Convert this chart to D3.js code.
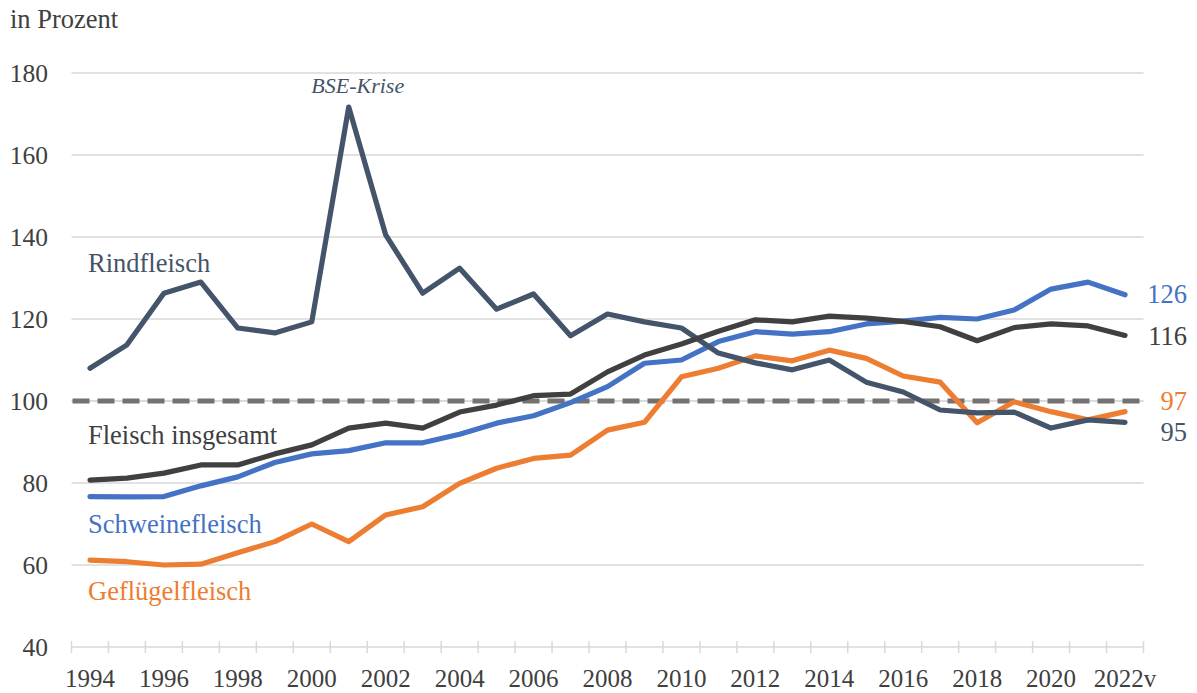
<!DOCTYPE html>
<html><head><meta charset="utf-8">
<script src="https://cdn.jsdelivr.net/npm/d3@7"></script>
<style>body{margin:0;background:#fff}svg{display:block}svg text{font-family:"Liberation Serif","Times New Roman","DejaVu Serif",serif}</style>
</head><body>
<svg id="c" width="1197" height="693"></svg>
<script>
const years = d3.range(1994, 2023);
const yearLabels = years.map(y => y === 2022 ? "2022v" : String(y));
const yTicks = [40, 60, 80, 100, 120, 140, 160, 180];
const rind = [108, 113.7, 126.3, 129, 117.8, 116.6, 119.3, 171.7, 140.5, 126.3, 132.4, 122.4, 126.1, 115.9, 121.2, 119.3, 117.8, 111.7, 109.3, 107.6, 110, 104.6, 102.2, 97.8, 97.1, 97.3, 93.4, 95.4, 94.8];
const gesamt = [80.7, 81.2, 82.4, 84.4, 84.4, 87.1, 89.3, 93.4, 94.6, 93.4, 97.3, 99, 101.3, 101.7, 107.1, 111.2, 113.9, 117, 119.8, 119.3, 120.7, 120.2, 119.4, 118.1, 114.7, 117.9, 118.8, 118.3, 116];
const schwein = [76.7, 76.6, 76.7, 79.3, 81.5, 85, 87.1, 87.9, 89.8, 89.8, 91.9, 94.6, 96.4, 99.6, 103.5, 109.2, 110, 114.5, 116.9, 116.3, 116.9, 118.8, 119.5, 120.4, 120, 122.2, 127.3, 129, 125.9];
const gefluegel = [61.2, 60.8, 60, 60.2, 63, 65.7, 70, 65.7, 72.2, 74.2, 79.9, 83.6, 86, 86.8, 92.9, 94.8, 105.9, 108, 111, 109.8, 112.4, 110.4, 106.1, 104.6, 94.7, 99.8, 97.4, 95.4, 97.4];
const seriesNames = ["Rindfleisch", "Fleisch insgesamt", "Schweinefleisch", "Geflügelfleisch"];
const endLabels = ["95", "116", "126", "97"];

const svg = d3.select("#c");
const pLeft = 71.5, pRight = 1143.5, pTop = 73, pBottom = 647;
const x = d3.scaleBand().domain(years).range([pLeft, pRight]);
const xc = d => x(d) + x.bandwidth() / 2;
const y = d3.scaleLinear().domain([40, 180]).range([pBottom, pTop]);

// gridlines
svg.append("g").selectAll("line").data(yTicks.filter(t => t !== 40)).join("line")
  .attr("x1", pLeft).attr("x2", pRight).attr("y1", d => y(d)).attr("y2", d => y(d))
  .attr("stroke", "#d9d9d9").attr("stroke-width", 1.5);

// y axis labels
svg.append("g").selectAll("text").data(yTicks).join("text")
  .attr("x", 48).attr("y", d => y(d) + 9).attr("text-anchor", "end")
  .attr("font-size", 25.5).attr("fill", "#404040").text(d => d);

// x axis
const xAxis = svg.append("g");
xAxis.append("line").attr("x1", pLeft).attr("x2", pRight).attr("y1", pBottom).attr("y2", pBottom)
  .attr("stroke", "#d9d9d9").attr("stroke-width", 1.5);
const bounds = years.map(d => x(d)).concat([pRight]);
xAxis.selectAll("line.t").data(bounds).join("line").attr("class", "t")
  .attr("x1", d => d).attr("x2", d => d).attr("y1", pBottom - 6).attr("y2", pBottom + 6)
  .attr("stroke", "#d9d9d9").attr("stroke-width", 1.5);
xAxis.selectAll("text").data(years.filter((d, i) => i % 2 === 0)).join("text")
  .attr("x", d => xc(d)).attr("y", 687).attr("text-anchor", "middle")
  .attr("font-size", 25).attr("fill", "#404040")
  .text(d => yearLabels[years.indexOf(d)]);

// reference line 100
svg.append("line").attr("x1", pLeft).attr("x2", pRight).attr("y1", y(100)).attr("y2", y(100))
  .attr("stroke", "#d9d9d9").attr("stroke-width", 1.5);
svg.append("line").attr("x1", pLeft + 1).attr("x2", pRight - 3).attr("y1", y(100)).attr("y2", y(100))
  .attr("stroke", "#767171").attr("stroke-width", 5).attr("stroke-dasharray", "17,8");

const line = d3.line().x((d, i) => xc(years[i])).y(d => y(d));
const series = [
  {v: gefluegel, c: "#ED7D31"},
  {v: schwein, c: "#4472C4"},
  {v: rind, c: "#44546A"},
  {v: gesamt, c: "#404040"}
];
svg.append("g").selectAll("path").data(series).join("path")
  .attr("d", d => line(d.v)).attr("fill", "none").attr("stroke", d => d.c)
  .attr("stroke-width", 5.2).attr("stroke-linejoin", "round").attr("stroke-linecap", "round");

// series labels
const lab = [
  {t: seriesNames[0], x: 88, y: 272, c: "#44546A"},
  {t: seriesNames[1], x: 88, y: 444, c: "#404040"},
  {t: seriesNames[2], x: 88, y: 533, c: "#4472C4"},
  {t: seriesNames[3], x: 88, y: 600, c: "#ED7D31"}
];
svg.append("g").selectAll("text").data(lab).join("text")
  .attr("x", d => d.x).attr("y", d => d.y).attr("fill", d => d.c)
  .attr("font-size", 26.5).text(d => d.t);

// end labels
const ends = [
  {t: endLabels[2], yv: 303, c: "#4472C4"},
  {t: endLabels[1], yv: 345, c: "#404040"},
  {t: endLabels[3], yv: 410, c: "#ED7D31"},
  {t: endLabels[0], yv: 441, c: "#44546A"}
];
svg.append("g").selectAll("text").data(ends).join("text")
  .attr("x", 1187).attr("y", d => d.yv).attr("text-anchor", "end").attr("fill", d => d.c)
  .attr("font-size", 26.5).text(d => d.t);

// BSE annotation
svg.append("text").attr("x", xc(2001) + 9).attr("y", 93).attr("text-anchor", "middle")
  .attr("font-size", 22).attr("font-style", "italic")
  .attr("fill", "#44546A").text("BSE-Krise");

// unit label
svg.append("text").attr("x", 10).attr("y", 28).attr("font-size", 26.5)
  .attr("fill", "#404040").text("in Prozent");
</script>
</body></html>
